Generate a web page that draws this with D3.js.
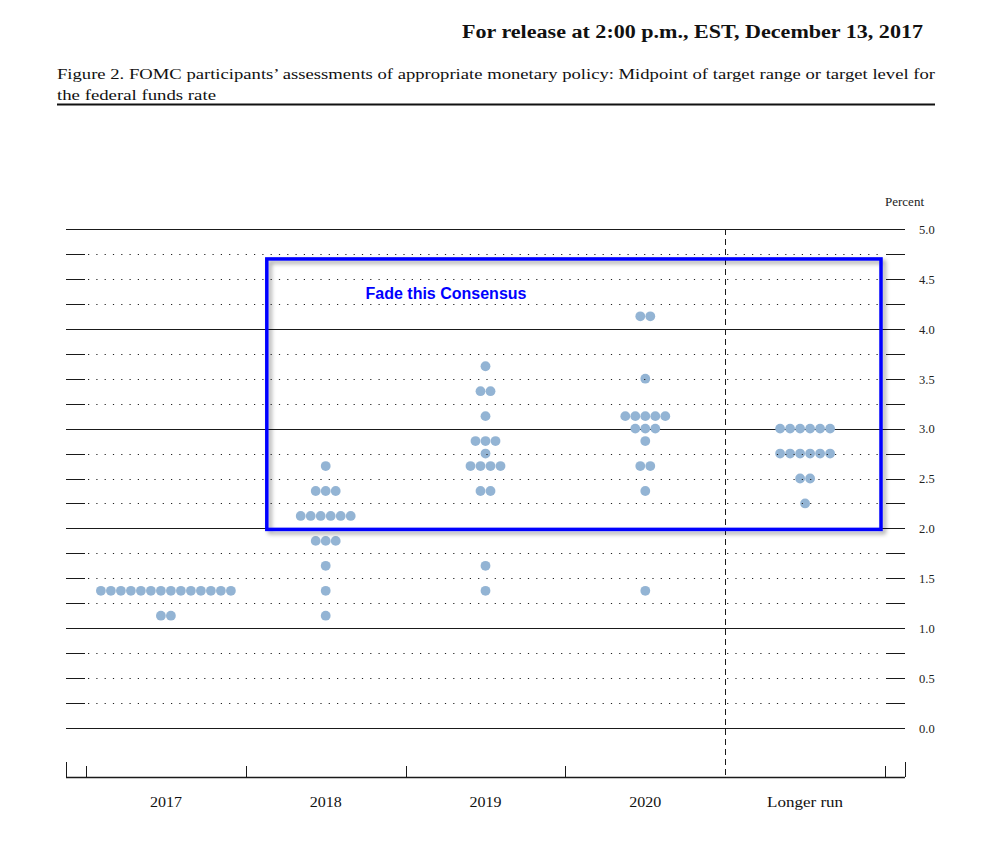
<!DOCTYPE html>
<html>
<head>
<meta charset="utf-8">
<script src="https://cdn.jsdelivr.net/npm/d3@7"></script>
<style>
  html, body { margin: 0; padding: 0; background: #fff; }
  svg { display: block; }
</style>
</head>
<body>
<svg id="chart" width="1001" height="841"></svg>
<script>
// ---- data ----
const categories = ["2017", "2018", "2019", "2020", "Longer run"];
// [midpoint value, number of participants] per category
const dots2017 = [[1.375, 14], [1.125, 2]];
const dots2018 = [[2.625, 1], [2.375, 3], [2.125, 6], [1.875, 3], [1.625, 1], [1.375, 1], [1.125, 1]];
const dots2019 = [[3.625, 1], [3.375, 2], [3.125, 1], [2.875, 3], [2.75, 1], [2.625, 4], [2.375, 2], [1.625, 1], [1.375, 1]];
const dots2020 = [[4.125, 2], [3.5, 1], [3.125, 5], [3.0, 3], [2.875, 1], [2.625, 2], [2.375, 1], [1.375, 1]];
const dotsLongRun = [[3.0, 6], [2.75, 6], [2.5, 2], [2.25, 1]];
const seriesByCategory = [dots2017, dots2018, dots2019, dots2020, dotsLongRun];
const yTickLabels = ["0.0", "0.5", "1.0", "1.5", "2.0", "2.5", "3.0", "3.5", "4.0", "4.5", "5.0"];
const boxRange = [2.0, 4.7]; // annotation box (percent)
const headerText = "For release at 2:00 p.m., EST, December 13, 2017";
const titleLine1 = "Figure 2. FOMC participants\u2019 assessments of appropriate monetary policy: Midpoint of target range or target level for";
const titleLine2 = "the federal funds rate";
const annotationText = "Fade this Consensus";

// ---- layout ----
const svg = d3.select("#chart");
const serif = "'Liberation Serif', 'DejaVu Serif', serif";
const x = d3.scaleBand().domain(categories).range([86, 885]);
const y = d3.scaleLinear().domain([0, 5]).range([728, 229]);
const xLeft = 66, xRight = 905, axisY = 777;
const dotR = 4.9, dotStep = 10;

// header
svg.append("text").attr("x", 923).attr("y", 38).attr("text-anchor", "end")
  .attr("font-family", serif).attr("font-weight", "bold").attr("font-size", 18.5)
  .attr("textLength", 461).attr("lengthAdjust", "spacingAndGlyphs")
  .attr("fill", "#111").text(headerText);
svg.append("text").attr("x", 57).attr("y", 79)
  .attr("font-family", serif).attr("font-size", 14.5)
  .attr("textLength", 878).attr("lengthAdjust", "spacingAndGlyphs")
  .attr("fill", "#111").text(titleLine1);
svg.append("text").attr("x", 57).attr("y", 100)
  .attr("font-family", serif).attr("font-size", 14.5)
  .attr("textLength", 159).attr("lengthAdjust", "spacingAndGlyphs")
  .attr("fill", "#111").text(titleLine2);
svg.append("line").attr("x1", 57).attr("x2", 935).attr("y1", 104.5).attr("y2", 104.5)
  .attr("stroke", "#111").attr("stroke-width", 2);

// Percent label
svg.append("text").attr("x", 904.5).attr("y", 206).attr("text-anchor", "middle")
  .attr("font-family", serif).attr("font-size", 11.5)
  .attr("textLength", 39).attr("lengthAdjust", "spacingAndGlyphs")
  .attr("fill", "#222").text("Percent");

// grid
const quarterLevels = d3.range(0, 5.001, 0.25);
const gGrid = svg.append("g");
const gDotted = svg.append("g");
quarterLevels.forEach(v => {
  const yy = Math.round(y(v)) + 0.5;
  const whole = Math.abs(v - Math.round(v)) < 1e-9;
  if (whole) {
    gGrid.append("line").attr("x1", xLeft).attr("x2", xRight).attr("y1", yy).attr("y2", yy)
      .attr("stroke", "#1a1a1a").attr("stroke-width", 1);
  } else {
    gGrid.append("line").attr("x1", xLeft).attr("x2", 85).attr("y1", yy).attr("y2", yy)
      .attr("stroke", "#1a1a1a").attr("stroke-width", 1);
    gGrid.append("line").attr("x1", 886).attr("x2", xRight).attr("y1", yy).attr("y2", yy)
      .attr("stroke", "#1a1a1a").attr("stroke-width", 1);
    gDotted.append("line").attr("x1", 88).attr("x2", 884).attr("y1", yy).attr("y2", yy)
      .attr("stroke", "#222").attr("stroke-width", 1.1).attr("stroke-dasharray", "1.2,7.1");
  }
});

// y tick labels
const yAxis = d3.axisRight(y).tickValues(yTickLabels.map(Number))
  .tickFormat((d, i) => yTickLabels[i]).tickSize(0).tickPadding(0);
const gy = svg.append("g").attr("transform", "translate(919,0)").call(yAxis);
gy.select(".domain").remove();
gy.selectAll("text").attr("font-family", serif).attr("font-size", 12.5).attr("fill", "#222")
  .attr("dy", "0.35em");

// dots
const gDots = svg.append("g");
categories.forEach((c, ci) => {
  const cx = x(c) + x.bandwidth() / 2;
  seriesByCategory[ci].forEach(([v, n]) => {
    for (let k = 0; k < n; k++) {
      gDots.append("circle")
        .attr("cx", cx + (k - (n - 1) / 2) * dotStep)
        .attr("cy", y(v))
        .attr("r", dotR)
        .attr("fill", "#93b4d4");
    }
  });
});
gDotted.raise();

// vertical dashed separator before "Longer run"
const sepX = Math.round(x("Longer run")) + 0.5;
svg.append("line").attr("x1", sepX).attr("x2", sepX).attr("y1", y(5)).attr("y2", axisY)
  .attr("stroke", "#1a1a1a").attr("stroke-width", 1).attr("stroke-dasharray", "6,4");

// bottom axis
const gx = svg.append("g");
gx.append("line").attr("x1", xLeft).attr("x2", xRight).attr("y1", axisY + 0.5).attr("y2", axisY + 0.5)
  .attr("stroke", "#1a1a1a").attr("stroke-width", 1.4);
[xLeft, xRight].forEach(xx => {
  gx.append("line").attr("x1", xx + 0.5).attr("x2", xx + 0.5).attr("y1", 762).attr("y2", axisY)
    .attr("stroke", "#1a1a1a").attr("stroke-width", 1);
});
const bounds = categories.map(c => x(c)).concat([x.range()[1]]);
bounds.forEach((b, i) => {
  if (categories[i] === "Longer run") return;
  gx.append("line").attr("x1", Math.round(b) + 0.5).attr("x2", Math.round(b) + 0.5)
    .attr("y1", 766).attr("y2", axisY).attr("stroke", "#1a1a1a").attr("stroke-width", 1);
});
const xAxis = d3.axisBottom(x).tickSize(0).tickPadding(0);
const gxl = svg.append("g").attr("transform", "translate(0,807)").call(xAxis);
gxl.select(".domain").remove();
gxl.selectAll("text").attr("font-family", serif).attr("font-size", 15.5).attr("fill", "#111")
  .attr("dy", 0)
  .attr("textLength", d => d === "Longer run" ? 76 : 32)
  .attr("lengthAdjust", "spacingAndGlyphs");

// annotation box with drop shadow
const defs = svg.append("defs");
const f = defs.append("filter").attr("id", "shadow").attr("x", "-5%").attr("y", "-5%")
  .attr("width", "110%").attr("height", "115%");
f.append("feDropShadow").attr("dx", 3).attr("dy", 3).attr("stdDeviation", 2)
  .attr("flood-color", "#000").attr("flood-opacity", 0.35);
const boxLeft = x("2018") + 21, boxRight = x.range()[1] - 4;
svg.append("rect")
  .attr("x", boxLeft).attr("y", y(boxRange[1]))
  .attr("width", boxRight - boxLeft).attr("height", y(boxRange[0]) - y(boxRange[1]) + 1)
  .attr("fill", "none").attr("stroke", "#0000ff").attr("stroke-width", 3.5)
  .attr("filter", "url(#shadow)");
svg.append("text").attr("x", 446).attr("y", 299).attr("text-anchor", "middle")
  .attr("font-family", "'Liberation Sans', Arial, sans-serif").attr("font-weight", "bold")
  .attr("font-size", 16).attr("fill", "#0000ff").text(annotationText);
</script>
</body>
</html>
